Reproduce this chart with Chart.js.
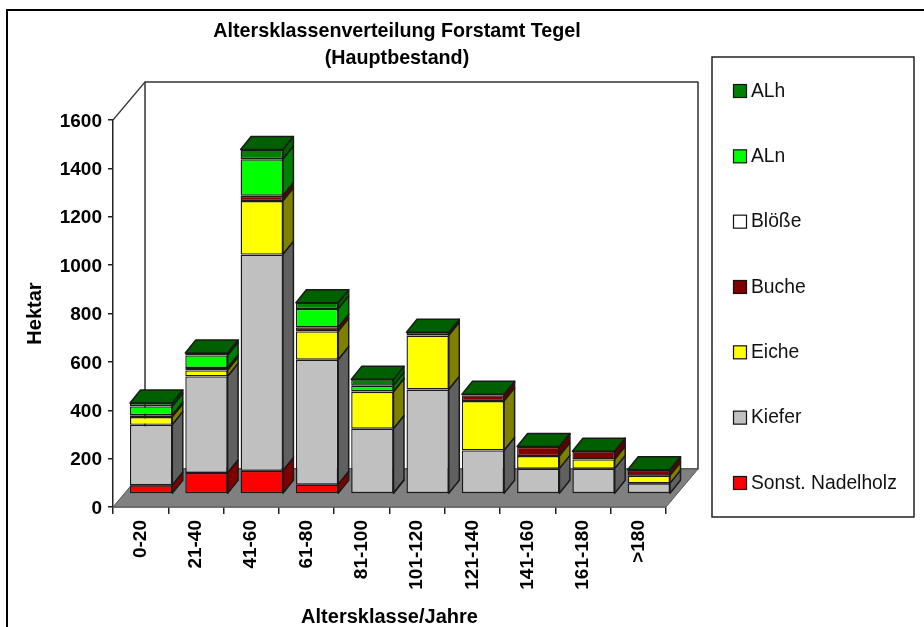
<!DOCTYPE html>
<html><head><meta charset="utf-8">
<style>html,body{margin:0;padding:0;background:#fff}canvas{display:block}</style>
<script src="https://cdn.jsdelivr.net/npm/chart.js@4"></script>
</head><body><canvas id="c" width="924" height="627"></canvas>
<script>
const categories = ['0-20','21-40','41-60','61-80','81-100','101-120','121-140','141-160','161-180','>180'];
const sonstNadelholz = [36, 87, 96, 39, 4, 0, 0, 0, 0, 0];
const kiefer = [250, 399, 894, 516, 266, 432, 180, 105, 105, 44];
const eiche = [32, 25, 221, 117, 152, 223, 204, 52, 38, 32];
const buche = [8, 10, 22, 17, 2, 2, 24, 38, 33, 23];
const bloesse = [0, 0, 0, 0, 0, 0, 0, 0, 0, 0];
const aln = [36, 52, 151, 76, 24, 0, 0, 0, 0, 0];
const alh = [14, 10, 40, 26, 26, 12, 4, 1, 1, 1];
const yTicksMax = 1600, yTicksStep = 200;

const titleLines = ['Altersklassenverteilung Forstamt Tegel', '(Hauptbestand)'];
const xTitle = 'Altersklasse/Jahre';
const yTitle = 'Hektar';

const FONT = '"Liberation Sans", Arial, sans-serif';
const INK = '#1a1a1a';
const DEPTH = {x: 32, y: 38};
const BAR_SHIFT = {x: 10.5, y: 13};
const BAR_DEPTH = {x: 10.5, y: 13};

function ds(label, data, color, side) {
  return {label, data, backgroundColor: color, sideColor: side, borderColor: INK, borderWidth: 1.4,
          borderSkipped: false, inflateAmount: 0, clip: false,
          categoryPercentage: 1, barPercentage: 0.765};
}
const datasets = [
  ds('Sonst. Nadelholz', sonstNadelholz, '#ff0000', '#800000'),
  ds('Kiefer', kiefer, '#c0c0c0', '#606060'),
  ds('Eiche', eiche, '#ffff00', '#808000'),
  ds('Buche', buche, '#800000', '#600000'),
  ds('Blöße', bloesse, '#ffffff', '#808080'),
  ds('ALn', aln, '#00ff00', '#008000'),
  ds('ALh', alh, '#008000', '#006000')
];

function poly(ctx, pts, fill, stroke, lw) {
  ctx.beginPath();
  pts.forEach((p, i) => i ? ctx.lineTo(p[0], p[1]) : ctx.moveTo(p[0], p[1]));
  ctx.closePath();
  if (fill) { ctx.fillStyle = fill; ctx.fill(); }
  if (stroke) { ctx.strokeStyle = stroke; ctx.lineWidth = lw; ctx.lineJoin = 'round'; ctx.stroke(); }
}

const scene = {
  id: 'scene',
  beforeDatasetsDraw(chart) {
    const {ctx, chartArea: a} = chart;
    ctx.save();
    // outer frame
    ctx.strokeStyle = '#000'; ctx.lineWidth = 2;
    ctx.beginPath(); ctx.moveTo(7, 640); ctx.lineTo(7, 10); ctx.lineTo(930, 10); ctx.stroke();
    // title
    ctx.fillStyle = '#000'; ctx.font = 'bold 19.7px ' + FONT; ctx.textAlign = 'center'; ctx.textBaseline = 'middle';
    ctx.fillText(titleLines[0], 397, 32);
    ctx.fillText(titleLines[1], 397, 59);
    // back wall and side wall
    poly(ctx, [[a.left + DEPTH.x, a.top - DEPTH.y], [a.right + DEPTH.x, a.top - DEPTH.y],
               [a.right + DEPTH.x, a.bottom - DEPTH.y], [a.left + DEPTH.x, a.bottom - DEPTH.y]], '#fff', '#333', 1.5);
    ctx.strokeStyle = '#333'; ctx.lineWidth = 1.2;
    ctx.beginPath(); ctx.moveTo(a.left, a.top); ctx.lineTo(a.left + DEPTH.x, a.top - DEPTH.y); ctx.stroke();
    // floor
    poly(ctx, [[a.left, a.bottom], [a.left + DEPTH.x, a.bottom - DEPTH.y], [a.right + DEPTH.x, a.bottom - DEPTH.y], [a.right, a.bottom]], '#808080', '#555', 1);
    ctx.restore();
  },
  beforeDatasetDraw(chart, args) {
    const {ctx} = chart;
    ctx.save();
    ctx.translate(BAR_SHIFT.x, -BAR_SHIFT.y);
    const meta = chart.getDatasetMeta(args.index);
    const d = chart.data.datasets[args.index];
    meta.data.forEach((el, i) => {
      if (!d.data[i]) return;
      const r = el.x + el.width / 2, l = el.x - el.width / 2;
      const dx = BAR_DEPTH.x, dy = BAR_DEPTH.y;
      poly(ctx, [[r, el.y], [r + dx, el.y - dy], [r + dx, el.base - dy], [r, el.base]], d.sideColor, INK, 1.5);
      if (args.index === chart.data.datasets.length - 1) {
        poly(ctx, [[l, el.y], [l + dx, el.y - dy], [r + dx, el.y - dy], [r, el.y]], d.sideColor, INK, 1.5);
      }
    });
  },
  afterDatasetDraw(chart) { chart.ctx.restore(); },
  afterDraw(chart) {
    const {ctx} = chart;
    ctx.save();
    // legend
    ctx.fillStyle = '#fff'; ctx.strokeStyle = '#222'; ctx.lineWidth = 1.5;
    ctx.fillRect(712, 57, 202, 460); ctx.strokeRect(712, 57, 202, 460);
    const items = chart.data.datasets.slice().reverse();
    ctx.font = '19.3px ' + FONT; ctx.textAlign = 'left'; ctx.textBaseline = 'middle';
    items.forEach((d, i) => {
      const y = 91 + i * 65.33;
      ctx.fillStyle = d.backgroundColor; ctx.strokeStyle = '#111'; ctx.lineWidth = 1.2;
      ctx.fillRect(733.5, y - 6.5, 13, 13); ctx.strokeRect(733.5, y - 6.5, 13, 13);
      ctx.fillStyle = '#111';
      ctx.fillText(d.label, 751, y + 0.5);
    });
    ctx.restore();
  }
};

new Chart(document.getElementById('c'), {
  type: 'bar',
  data: {labels: categories, datasets},
  plugins: [scene],
  options: {
    responsive: false, animation: false,
    layout: {padding: {left: 23, right: 258, top: 120, bottom: -2}},
    plugins: {legend: {display: false}, title: {display: false}, tooltip: {enabled: false}},
    scales: {
      x: {
        stacked: true,
        afterFit(s) { s.height = 122; },
        grid: {drawOnChartArea: false, drawTicks: true, tickLength: 7, color: '#222', lineWidth: 1.5, offset: true},
        border: {color: '#222', width: 1.5},
        ticks: {color: '#000', font: {family: FONT, size: 19, weight: 'bold'}, minRotation: 90, maxRotation: 90, autoSkip: false, padding: 6},
        title: {display: true, text: xTitle, color: '#000', font: {family: FONT, size: 20, weight: 'bold'}, padding: 0}
      },
      y: {
        stacked: true, min: 0, max: yTicksMax,
        afterFit(s) { s.width = 90; },
        grid: {drawOnChartArea: false, drawTicks: true, tickLength: 5, color: '#222', lineWidth: 1.5},
        border: {color: '#222', width: 1.5},
        ticks: {stepSize: yTicksStep, color: '#000', font: {family: FONT, size: 19, weight: 'bold'}, padding: 6, labelOffset: 1.5,
                callback: v => String(v)},
        title: {display: true, text: yTitle, color: '#000', font: {family: FONT, size: 20, weight: 'bold'}, padding: 0}
      }
    }
  }
});
</script></body></html>
